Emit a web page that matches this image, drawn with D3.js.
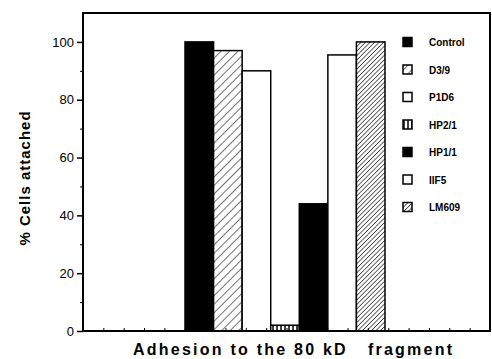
<!DOCTYPE html>
<html>
<head>
<meta charset="utf-8">
<script src="https://cdn.jsdelivr.net/npm/d3@7"></script>
<style>
  body { margin: 0; background: #fff; }
  svg { display: block; font-family: Arial, "Liberation Sans", sans-serif; }
</style>
</head>
<body>
<svg id="chart" width="492" height="359"></svg>
<script>
// data
const antibodies = ["Control", "D3/9", "P1D6", "HP2/1", "HP1/1", "IIF5", "LM609"];
const attached = [100, 97, 90, 2, 44, 95.5, 100];
const fills = ["solid", "hatch", "white", "vstripe", "solid", "white", "hatchDense"];
const yTicks = [0, 20, 40, 60, 80, 100];

const svg = d3.select("#chart");
const plot = { left: 83, right: 490, top: 13, bottom: 331 };

// patterns
const defs = svg.append("defs");
function diag(id, gap, w) {
  const p = defs.append("pattern").attr("id", id)
    .attr("patternUnits", "userSpaceOnUse")
    .attr("width", gap).attr("height", gap)
    .attr("patternTransform", "rotate(45)");
  p.append("rect").attr("width", gap).attr("height", gap).attr("fill", "#fff");
  p.append("line").attr("x1", 0).attr("y1", 0).attr("x2", 0).attr("y2", gap)
    .attr("stroke", "#000").attr("stroke-width", w);
}
diag("hatch", 6, 1.1);
diag("hatchDense", 3.2, 1.2);
const vs = defs.append("pattern").attr("id", "vstripe")
  .attr("patternUnits", "userSpaceOnUse").attr("width", 4).attr("height", 4);
vs.append("rect").attr("width", 4).attr("height", 4).attr("fill", "#fff");
vs.append("line").attr("x1", 1).attr("y1", 0).attr("x2", 1).attr("y2", 4)
  .attr("stroke", "#000").attr("stroke-width", 1.5);

const fillOf = f => f === "solid" ? "#000" : f === "white" ? "#fff" : `url(#${f})`;

const y = d3.scaleLinear().domain([0, 110]).range([plot.bottom, plot.top]);
const x = d3.scaleBand().domain(antibodies).range([185, 385]).padding(0);

// bars
svg.append("g").selectAll("rect")
  .data(antibodies)
  .enter().append("rect")
  .attr("x", d => x(d))
  .attr("width", x.bandwidth())
  .attr("y", (d, i) => y(attached[i]))
  .attr("height", (d, i) => y(0) - y(attached[i]))
  .attr("fill", (d, i) => fillOf(fills[i]))
  .attr("stroke", "#000")
  .attr("stroke-width", 1.5);

// frame
svg.append("rect")
  .attr("x", plot.left).attr("y", plot.top)
  .attr("width", plot.right - plot.left).attr("height", plot.bottom - plot.top)
  .attr("fill", "none").attr("stroke", "#000").attr("stroke-width", 2);

// y axis
const yAxis = svg.append("g")
  .attr("transform", `translate(${plot.left},0)`)
  .call(d3.axisLeft(y).tickValues(yTicks).tickSize(6).tickPadding(3));
yAxis.select(".domain").remove();
yAxis.selectAll("line").attr("stroke-width", 1.5);
yAxis.selectAll("text").attr("font-size", 13).attr("fill", "#000");

// minor y ticks
svg.append("g")
  .attr("transform", `translate(${plot.left},0)`)
  .call(d3.axisLeft(y).tickValues([10, 30, 50, 70, 90]).tickSize(3).tickFormat(""))
  .call(g => g.select(".domain").remove());

// small x ticks along the bottom
const xt = d3.scaleLinear().domain([0, 20]).range([plot.left, plot.right]);
svg.append("g")
  .attr("transform", `translate(0,${plot.bottom})`)
  .call(d3.axisTop(xt).ticks(20).tickSize(3).tickFormat(""))
  .call(g => g.select(".domain").remove());

// legend
const leg = svg.append("g").attr("transform", "translate(403,42)");
const rows = leg.selectAll("g").data(antibodies).enter().append("g")
  .attr("transform", (d, i) => `translate(0,${i * 27.5})`);
rows.append("rect")
  .attr("x", 0).attr("y", -4.5).attr("width", 9).attr("height", 9)
  .attr("fill", (d, i) => fillOf(fills[i]))
  .attr("stroke", "#000").attr("stroke-width", 1.5);
rows.append("text")
  .attr("x", 26).attr("y", 4)
  .attr("font-size", 10).attr("font-weight", "bold")
  .text(d => d);

// axis titles
svg.append("text")
  .attr("transform", "translate(30,178) rotate(-90)")
  .attr("text-anchor", "middle")
  .attr("font-size", 15).attr("font-weight", "bold")
  .attr("letter-spacing", 1)
  .text("% Cells attached");

svg.append("text")
  .attr("x", 133).attr("y", 355)
  .attr("font-size", 16).attr("font-weight", "bold")
  .style("white-space", "pre")
  .attr("textLength", 319).attr("lengthAdjust", "spacing")
  .text("Adhesion to the 80 kD   fragment");
</script>
</body>
</html>
